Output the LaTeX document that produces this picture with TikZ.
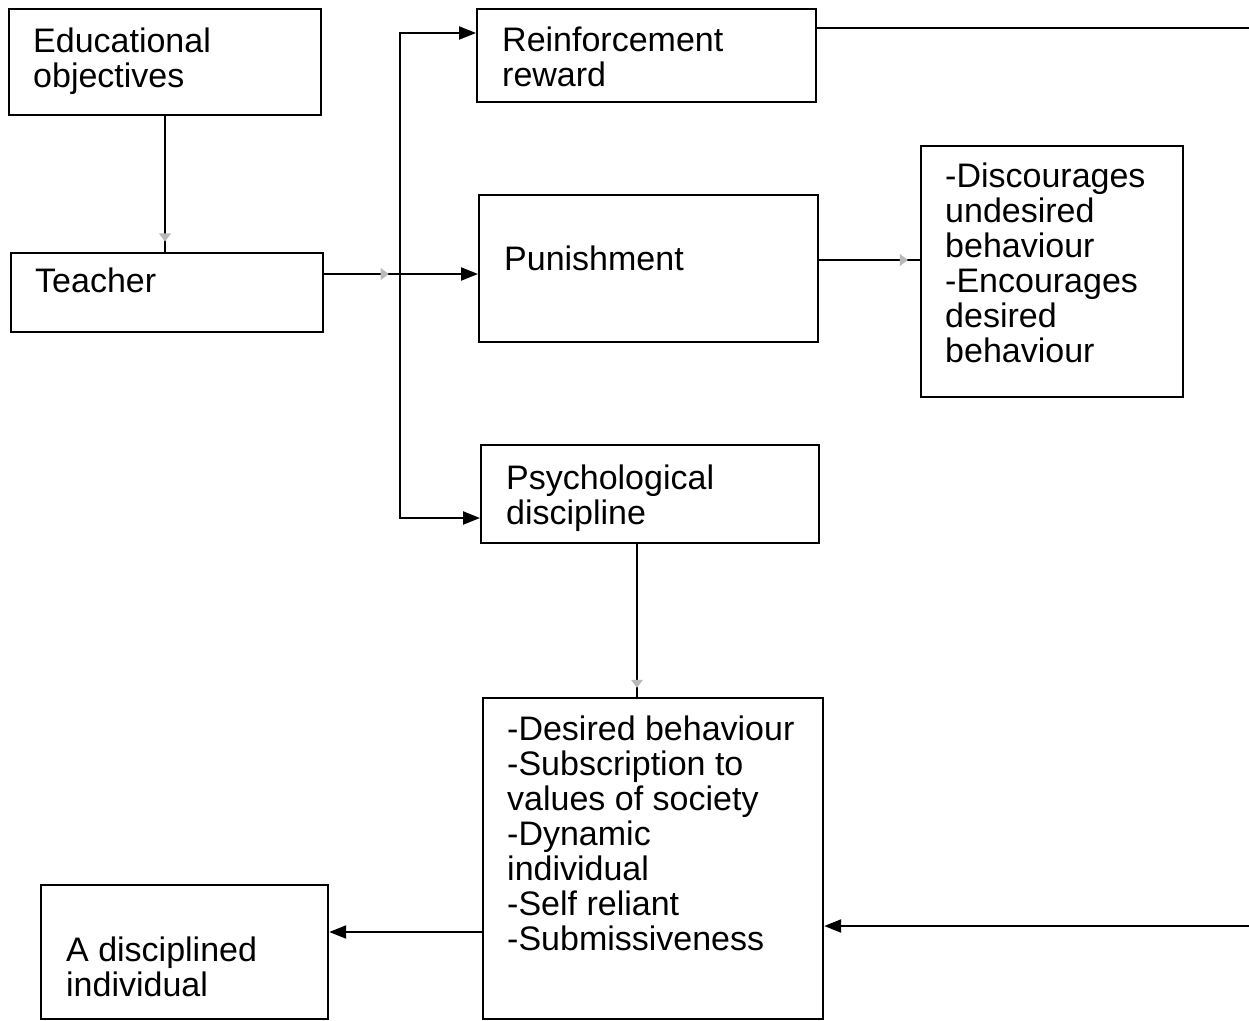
\documentclass[tikz,border=0pt]{standalone}
\usepackage{fontspec}
\setmainfont{Liberation Sans}
\usetikzlibrary{arrows.meta,decorations.markings}
\begin{document}
\begin{tikzpicture}[x=1pt,y=-1pt,
  box/.style={draw=black,line width=2.2pt,inner sep=0pt,anchor=north west},
  txt/.style={anchor=base west,inner sep=0pt,align=left,font=\fontsize{34}{35}\selectfont},
  conn/.style={draw=black,line width=2.2pt},
  arr/.style={conn,-{Triangle[length=17pt,width=13pt]}},
  faint/.style={postaction={decorate},decoration={markings,mark=at position #1 with {\fill[gray!55] (3pt,0) -- (-5pt,6pt) -- (-5pt,-6pt) -- cycle;}}}
]
\useasboundingbox[fill=white] (0,0) rectangle (1249,1020);
% boxes
\node[box,minimum width=312pt,minimum height=106pt] (edu) at (8,8) {};
\node[box,minimum width=312pt,minimum height=79pt] (teach) at (10,252) {};
\node[box,minimum width=339pt,minimum height=93pt] (rein) at (476,8) {};
\node[box,minimum width=339pt,minimum height=147pt] (pun) at (478,194) {};
\node[box,minimum width=262pt,minimum height=251pt] (disc) at (920,145) {};
\node[box,minimum width=338pt,minimum height=98pt] (psy) at (480,444) {};
\node[box,minimum width=340pt,minimum height=321pt] (out) at (482,697) {};
\node[box,minimum width=287pt,minimum height=134pt] (ind) at (40,884) {};
% texts (anchor at baseline of last line)
\node[txt] (tedu) at (33,87) {Educational\\objectives};
\node[txt] (tteach) at (35,292) {Teacher};
\node[txt] (trein) at (502,86) {Reinforcement\\reward};
\node[txt] (tpun) at (504,270) {Punishment};
\node[txt] (tdisc) at (945,362) {-Discourages\\undesired\\behaviour\\-Encourages\\desired\\behaviour};
\node[txt] (tpsy) at (506,524) {Psychological\\discipline};
\node[txt] (tout) at (507,950) {-Desired behaviour\\-Subscription to\\values of society\\-Dynamic\\individual\\-Self reliant\\-Submissiveness};
\node[txt] (tind) at (66,996) {A disciplined\\individual};
% coordinates
\coordinate (j1) at (400,33);
\coordinate (j2) at (400,518);
\coordinate (r1) at (1249,28);
\coordinate (r2) at (1249,926);
% connectors
\draw[conn,faint=0.9] (edu.south -| 165,0) -- (teach.north -| 165,0);
\draw[arr,faint=0.4] (teach.east |- 0,274) -- (pun.west |- 0,274);
\draw[arr] (j2) -- (j1) -- (rein.west |- j1);
\draw[arr] (j1) -- (j2) -- (psy.west |- j2);
\draw[conn,faint=0.85] (pun.east |- 0,260) -- (disc.west |- 0,260);
\draw[conn,faint=0.92] (psy.south -| 637,0) -- (out.north -| 637,0);
\draw[conn] (rein.east |- r1) -- (r1);
\draw[arr] (r2) -- (out.east |- r2);
\draw[arr] (out.west |- 0,932) -- (ind.east |- 0,932);
\end{tikzpicture}
\end{document}
